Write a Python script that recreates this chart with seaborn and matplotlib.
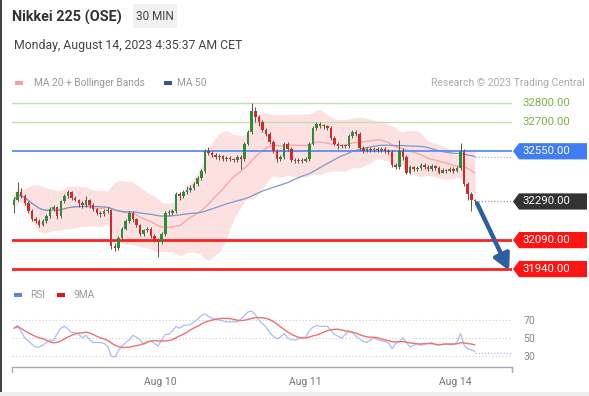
import numpy as np
import pandas as pd
import matplotlib
matplotlib.use("Agg")
import matplotlib.pyplot as plt
from matplotlib.patches import Rectangle, Polygon
from matplotlib.transforms import blended_transform_factory
import seaborn as sns

# 30-min bars
opens = [32270, 32300, 32340, 32320, 32280, 32240, 32200, 32190, 32170, 32190,
         32215, 32250, 32260, 32215, 32290, 32320, 32340, 32310, 32300, 32280,
         32270, 32300, 32270, 32250, 32230, 32225, 32240, 32245, 32060, 32050,
         32100, 32150, 32190, 32230, 32200, 32170, 32120, 32140, 32150, 32110,
         32090, 32080, 32120, 32230, 32230, 32240, 32330, 32320, 32340, 32350,
         32360, 32380, 32410, 32450, 32550, 32540, 32530, 32520, 32525, 32510,
         32515, 32510, 32505, 32520, 32510, 32590, 32650, 32760, 32730, 32700,
         32660, 32640, 32600, 32550, 32510, 32520, 32590, 32560, 32505, 32500,
         32505, 32500, 32510, 32590, 32670, 32690, 32680, 32680, 32670, 32620,
         32590, 32575, 32580, 32575, 32630, 32650, 32640, 32565, 32550, 32560,
         32555, 32560, 32555, 32560, 32550, 32545, 32480, 32470, 32550, 32520,
         32440, 32470, 32460, 32465, 32480, 32470, 32460, 32475, 32465, 32440,
         32455, 32450, 32460, 32450, 32465, 32550, 32380, 32330, 32300]
closes = [32300, 32340, 32320, 32280, 32240, 32200, 32190, 32170, 32190, 32215,
          32250, 32260, 32215, 32290, 32320, 32340, 32310, 32300, 32280, 32270,
          32300, 32270, 32250, 32230, 32225, 32240, 32245, 32060, 32050, 32100,
          32150, 32190, 32230, 32200, 32170, 32120, 32140, 32150, 32110, 32090,
          32080, 32120, 32230, 32230, 32240, 32330, 32320, 32340, 32350, 32360,
          32380, 32410, 32450, 32550, 32540, 32530, 32520, 32525, 32510, 32515,
          32510, 32505, 32520, 32510, 32590, 32650, 32760, 32730, 32700, 32660,
          32640, 32600, 32550, 32510, 32520, 32590, 32560, 32505, 32500, 32505,
          32500, 32510, 32590, 32670, 32690, 32680, 32680, 32670, 32620, 32590,
          32575, 32580, 32575, 32630, 32650, 32640, 32565, 32550, 32560, 32555,
          32560, 32555, 32560, 32550, 32545, 32480, 32470, 32550, 32520, 32440,
          32470, 32460, 32465, 32480, 32470, 32460, 32475, 32465, 32440, 32455,
          32450, 32460, 32450, 32465, 32550, 32380, 32330, 32300, 32290]
highs = [32315, 32390, 32360, 32330, 32290, 32250, 32210, 32200, 32200, 32225,
         32260, 32270, 32265, 32300, 32330, 32350, 32345, 32320, 32305, 32290,
         32320, 32305, 32280, 32255, 32240, 32250, 32260, 32250, 32075, 32110,
         32160, 32200, 32240, 32240, 32205, 32175, 32150, 32160, 32160, 32120,
         32100, 32130, 32240, 32245, 32250, 32340, 32340, 32350, 32370, 32375,
         32390, 32420, 32460, 32560, 32570, 32550, 32540, 32535, 32530, 32525,
         32525, 32515, 32530, 32530, 32600, 32660, 32800, 32780, 32740, 32710,
         32670, 32650, 32610, 32560, 32530, 32600, 32600, 32570, 32515, 32515,
         32515, 32520, 32600, 32680, 32700, 32700, 32690, 32685, 32680, 32630,
         32600, 32590, 32590, 32640, 32660, 32660, 32650, 32575, 32570, 32570,
         32570, 32570, 32570, 32570, 32560, 32555, 32490, 32610, 32565, 32530,
         32480, 32475, 32475, 32490, 32490, 32480, 32485, 32480, 32475, 32465,
         32460, 32470, 32470, 32475, 32595, 32560, 32390, 32340, 32305]
lows = [32230, 32290, 32310, 32270, 32230, 32190, 32180, 32160, 32165, 32180,
        32205, 32240, 32200, 32205, 32280, 32310, 32300, 32290, 32260, 32255,
        32260, 32255, 32240, 32220, 32210, 32215, 32230, 32045, 32035, 32040,
        32090, 32140, 32180, 32185, 32160, 32110, 32110, 32130, 32100, 32080,
        32000, 32070, 32110, 32215, 32220, 32230, 32300, 32310, 32330, 32340,
        32350, 32370, 32400, 32440, 32530, 32520, 32510, 32505, 32500, 32500,
        32500, 32495, 32495, 32460, 32500, 32580, 32640, 32700, 32680, 32650,
        32630, 32590, 32540, 32495, 32500, 32510, 32550, 32495, 32490, 32490,
        32490, 32495, 32500, 32580, 32660, 32670, 32665, 32660, 32610, 32580,
        32560, 32565, 32565, 32565, 32620, 32630, 32555, 32540, 32545, 32545,
        32545, 32545, 32545, 32540, 32535, 32470, 32460, 32460, 32505, 32430,
        32430, 32450, 32450, 32455, 32460, 32450, 32450, 32455, 32430, 32435,
        32440, 32445, 32440, 32445, 32455, 32370, 32300, 32240, 32280]

# RSI(14) as plotted in the lower panel
rsi = [61, 64, 57, 50, 47, 43, 40, 40, 42, 45, 48, 47, 55, 61, 63, 60, 56, 56,
       54, 50, 53, 48, 45, 45, 45, 44, 41, 30, 29, 36, 41, 45, 48, 53, 51, 48,
       43, 45, 47, 44, 41, 48, 54, 54, 58, 63, 61, 64, 64, 65, 68, 71, 75, 77,
       74, 72, 71, 70, 69, 68, 68, 68, 68, 71, 75, 79, 80, 76, 70, 66, 62, 56,
       52, 49, 51, 55, 50, 48, 48, 49, 50, 51, 58, 62, 64, 63, 63, 63, 59, 54,
       52, 50, 54, 58, 56, 52, 49, 46, 45, 48, 50, 48, 47, 46, 45, 38, 44, 46,
       50, 45, 40, 42, 43, 42, 43, 44, 45, 43, 42, 43, 44, 43, 43, 45, 55, 42,
       38, 37, 35]

tick_bars = [40.5, 80.8, 122.5]
tick_labels = ["Aug 10", "Aug 11", "Aug 14"]

resistances = [32800, 32700]
pivot = 32550
supports = [32090, 31940]
target = 31940

W, H = 589, 396
def fx(px):
    return px / W
def fy(py):
    return 1 - py / H

sns.set_style("white")
plt.rcParams["font.family"] = ["Roboto", "DejaVu Sans"]

df = pd.DataFrame({"open": opens, "high": highs, "low": lows, "close": closes, "rsi": rsi})
df["bar"] = np.arange(len(df))
df["ma20"] = df["close"].rolling(20, min_periods=1).mean()
sd = df["close"].rolling(20, min_periods=2).std(ddof=0).bfill()
df["up"] = df["ma20"] + 2 * sd
df["dn"] = df["ma20"] - 2 * sd
df["ma50"] = df["close"].rolling(50, min_periods=1).mean()
df["rsi9"] = df["rsi"].rolling(9, min_periods=1).mean()

fig = plt.figure(figsize=(W / 100, H / 100), dpi=100)
fig.patch.set_facecolor("white")

# ---- price panel
ax = fig.add_axes([fx(12), fy(282), 500 / W, 190 / H])
x_lo, x_hi = -0.56, 138.3
ax.set_xlim(x_lo, x_hi)
ax.set_ylim(31873, 32857)
ax.axis("off")

ax.fill_between(df["bar"], df["dn"], df["up"], color="#fde0e0", lw=0, zorder=1)
sns.lineplot(data=df, x="bar", y="ma20", ax=ax, color="#f6a3a3", lw=0.9, zorder=2)
sns.lineplot(data=df, x="bar", y="ma50", ax=ax, color="#7d99cc", lw=0.9, zorder=2)

for lvl in resistances:
    ax.axhline(lvl, color="#c5e0b0", lw=1.0, zorder=2.5)
ax.axhline(pivot, color="#5b8df5", lw=1.3, zorder=2.5)
for lvl in supports:
    ax.axhline(lvl, color="#ff2020", lw=2.0, zorder=2.5)

is_up = df["close"] >= df["open"]
ax.vlines(df["bar"], df["low"], df["high"], color="#555555", lw=0.7, zorder=3)
body = np.maximum((df["close"] - df["open"]).abs(), 4)
ax.bar(df["bar"], body, bottom=np.minimum(df["open"], df["close"]), width=0.7,
       color=np.where(is_up, "#2e8b3a", "#d42a2a"), lw=0, zorder=4)

last = len(df) - 1
ax.plot([last, x_hi], [closes[-1]] * 2, ls=(0, (1, 1.5)), color="#999999", lw=0.9)
ax.plot([last, x_hi], [df["ma50"].iloc[-1]] * 2, ls=(0, (1, 1.5)), color="#aab4cc", lw=0.9)

ax.annotate("", xy=(last + 9.5, target - 8), xytext=(last + 0.6, closes[-1] - 10),
            arrowprops=dict(arrowstyle="-|>,head_width=0.5,head_length=0.95",
                            color="#2d5fa0", lw=3.2, shrinkA=0, shrinkB=0), zorder=6)

tr = blended_transform_factory(ax.transAxes, ax.transData)
for lvl in resistances:
    ax.text(1.02, lvl, f"{lvl:.2f}", transform=tr, color="#7cb342", fontsize=8.2,
            va="center", ha="left", clip_on=False)

def tag(level, color):
    h = 42
    pts = [(1.002, level), (1.014, level + h), (1.15, level + h),
           (1.15, level - h), (1.014, level - h)]
    ax.add_patch(Polygon(pts, closed=True, transform=tr, facecolor=color,
                         edgecolor="none", clip_on=False, zorder=7))
    ax.text(1.02, level, f"{level:.2f}", transform=tr, color="white", fontsize=8.2,
            va="center", ha="left", clip_on=False, zorder=8)

tag(pivot, "#3f7cf5")
tag(closes[-1], "#333333")
for lvl in supports:
    tag(lvl, "#ff1414")

# ---- RSI panel
rax = fig.add_axes([fx(12), fy(367), 500 / W, 62 / H])
rax.set_xlim(x_lo, x_hi)
rax.set_ylim(17.8, 86.7)
for lvl in [30, 50, 70]:
    rax.axhline(lvl, color="#cccccc", lw=0.8, ls=(0, (1, 2)), zorder=0)
sns.lineplot(data=df, x="bar", y="rsi", ax=rax, color="#a9bdf2", lw=0.9)
sns.lineplot(data=df, x="bar", y="rsi9", ax=rax, color="#f07070", lw=1.0)
rax.plot([last, x_hi], [rsi[-1] - 2] * 2, ls=(0, (1, 1.5)), color="#a9bdf2", lw=0.9)
rax.yaxis.tick_right()
rax.set_yticks([30, 50, 70])
rax.set_yticklabels(["30", "50", "70"])
rax.tick_params(axis="y", length=0, pad=8, labelsize=7.5, labelcolor="#888888")
rax.set_xticks(tick_bars)
rax.set_xticklabels(tick_labels)
rax.tick_params(axis="x", length=0, pad=7, labelsize=7.5, labelcolor="#777777")
rax.set_xlabel("")
rax.set_ylabel("")
for s in ["top", "left", "right"]:
    rax.spines[s].set_visible(False)
rax.spines["bottom"].set_color("#aaaaaa")
rax.spines["bottom"].set_linewidth(1.0)
for px in [12, 512]:
    fig.add_artist(plt.Line2D([fx(px), fx(px)], [fy(367), fy(372)], color="#aaaaaa", lw=1.0))

# ---- header and legends
fig.text(fx(12), fy(17), "Nikkei 225 (OSE)", fontsize=10.4, fontweight="bold",
         color="#333333", va="center", ha="left")
fig.add_artist(Rectangle((fx(133), fy(28)), 44 / W, 24 / H, color="#f1f1f1", lw=0))
fig.text(fx(155), fy(16), "30 MIN", fontsize=8.5, color="#444444", va="center", ha="center")
fig.text(fx(14), fy(45), "Monday, August 14, 2023 4:35:37 AM CET", fontsize=8.8,
         color="#444444", va="center", ha="left")

fig.add_artist(Rectangle((fx(15), fy(85)), 8 / W, 4 / H, color="#f7a0a0", lw=0))
fig.text(fx(34), fy(83), "MA 20 + Bollinger Bands", fontsize=7.3, color="#999999", va="center")
fig.add_artist(Rectangle((fx(164), fy(85)), 8 / W, 4 / H, color="#2f5597", lw=0))
fig.text(fx(177), fy(83), "MA 50", fontsize=7.3, color="#999999", va="center")
fig.text(fx(585), fy(83), "Research \u00a9 2023 Trading Central", fontsize=7.5,
         color="#aaaaaa", va="center", ha="right")

fig.add_artist(Rectangle((fx(14), fy(297)), 8 / W, 4 / H, color="#5b84e0", lw=0))
fig.text(fx(30), fy(295), "RSI", fontsize=7.3, color="#999999", va="center")
fig.add_artist(Rectangle((fx(57), fy(297)), 8 / W, 4 / H, color="#ee1111", lw=0))
fig.text(fx(74), fy(295), "9MA", fontsize=7.3, color="#999999", va="center")

# frame bits
fig.add_artist(Rectangle((0, 0), 2 / W, 1, color="#444444", lw=0))
fig.add_artist(Rectangle((0, 0), 1, 4 / H, color="#eeeeee", lw=0))

fig.savefig("out.png", dpi=100)
